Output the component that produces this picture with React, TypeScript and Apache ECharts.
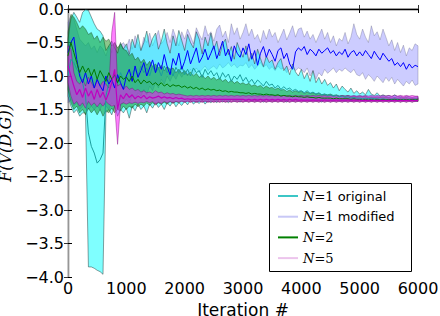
import React, { useEffect, useRef } from "react";
import * as echarts from "echarts";

// iteration grid (every 50 iterations)
const iters = [
  0, 50, 100, 150, 200, 250, 300, 350, 400, 450,
  500, 550, 600, 650, 700, 750, 800, 850, 900, 950,
  1000, 1050, 1100, 1150, 1200, 1250, 1300, 1350, 1400, 1450,
  1500, 1550, 1600, 1650, 1700, 1750, 1800, 1850, 1900, 1950,
  2000, 2050, 2100, 2150, 2200, 2250, 2300, 2350, 2400, 2450,
  2500, 2550, 2600, 2650, 2700, 2750, 2800, 2850, 2900, 2950,
  3000, 3050, 3100, 3150, 3200, 3250, 3300, 3350, 3400, 3450,
  3500, 3550, 3600, 3650, 3700, 3750, 3800, 3850, 3900, 3950,
  4000, 4050, 4100, 4150, 4200, 4250, 4300, 4350, 4400, 4450,
  4500, 4550, 4600, 4650, 4700, 4750, 4800, 4850, 4900, 4950,
  5000, 5050, 5100, 5150, 5200, 5250, 5300, 5350, 5400, 5450,
  5500, 5550, 5600, 5650, 5700, 5750, 5800, 5850, 5900, 5950,
  6000,
];

// N=1 original (cyan band, teal mean)
const origHi = [
  -0.45, -0.15, -0.05, -0.12, -0.2, -0.05, -0.01, -0.02, -0.12, -0.22,
  -0.3, -0.33, -0.4, -0.62, -0.55, -0.48, -0.58, -0.66, -0.5, -0.6,
  -0.52, -0.68, -0.45, -0.58, -0.38, -0.62, -0.5, -0.33, -0.57, -0.44,
  -0.36, -0.6, -0.48, -0.3, -0.52, -0.66, -0.4, -0.55, -0.32, -0.47,
  -0.62, -0.38, -0.5, -0.58, -0.34, -0.45, -0.67, -0.42, -0.55, -0.36,
  -0.6, -0.48, -0.7, -0.52, -0.45, -0.68, -0.56, -0.75, -0.5, -0.62,
  -0.72, -0.55, -0.78, -0.66, -0.82, -0.6, -0.74, -0.86, -0.7, -0.8,
  -0.76, -0.9, -0.8, -0.74, -0.92, -0.85, -0.98, -0.82, -0.94, -1.0,
  -0.9, -1.04, -0.95, -1.08, -0.92, -1.1, -1.02, -1.12, -1.05, -1.14,
  -1.1, -1.18, -1.12, -1.22, -1.15, -1.2, -1.24, -1.18, -1.26, -1.22,
  -1.27, -1.24, -1.28, -1.2, -1.27, -1.29, -1.25, -1.3, -1.28, -1.3,
  -1.29, -1.31, -1.28, -1.31, -1.3, -1.32, -1.3, -1.31, -1.32, -1.31,
  -1.31,
];
const origLo = [
  -1.3, -1.45, -1.55, -1.5, -1.6, -1.55, -1.55, -3.85, -3.85, -3.87,
  -3.9, -3.92, -3.96, -1.55, -1.5, -1.58, -1.45, -1.6, -1.5, -1.55,
  -1.48, -1.63, -1.45, -1.52, -1.42, -1.5, -1.45, -1.55, -1.42, -1.48,
  -1.4, -1.47, -1.42, -1.5, -1.4, -1.45, -1.38, -1.46, -1.4, -1.44,
  -1.38, -1.43, -1.36, -1.42, -1.38, -1.41, -1.36, -1.42, -1.37, -1.4,
  -1.36, -1.4, -1.35, -1.39, -1.36, -1.4, -1.35, -1.38, -1.36, -1.39,
  -1.35, -1.38, -1.35, -1.38, -1.36, -1.38, -1.35, -1.39, -1.35, -1.38,
  -1.36, -1.38, -1.35, -1.38, -1.36, -1.39, -1.35, -1.38, -1.36, -1.38,
  -1.35, -1.38, -1.36, -1.38, -1.35, -1.38, -1.36, -1.39, -1.35, -1.38,
  -1.36, -1.38, -1.35, -1.38, -1.36, -1.38, -1.35, -1.38, -1.36, -1.38,
  -1.35, -1.38, -1.36, -1.38, -1.35, -1.38, -1.36, -1.38, -1.35, -1.38,
  -1.36, -1.38, -1.35, -1.38, -1.36, -1.38, -1.35, -1.38, -1.36, -1.38,
  -1.37,
];
const origMean = [
  -1.0, -0.75, -0.8, -0.9, -0.95, -1.1, -1.3, -1.85, -2.05, -2.15,
  -2.3, -2.25, -2.15, -1.3, -1.1, -1.05, -1.0, -1.1, -0.95, -1.05,
  -1.0, -1.08, -0.95, -0.9, -1.0, -0.85, -0.95, -0.88, -1.0, -0.85,
  -0.95, -0.88, -1.0, -0.85, -0.95, -0.9, -1.0, -0.87, -0.95, -0.85,
  -0.98, -0.9, -1.0, -0.88, -0.95, -0.92, -1.02, -0.9, -0.98, -0.92,
  -1.0, -0.95, -1.05, -0.95, -1.02, -0.97, -1.08, -1.0, -1.05, -0.98,
  -1.08, -1.02, -1.1, -1.05, -1.12, -1.06, -1.1, -1.15, -1.08, -1.14,
  -1.12, -1.18, -1.14, -1.2, -1.16, -1.2, -1.18, -1.22, -1.2, -1.23,
  -1.22, -1.25, -1.22, -1.26, -1.24, -1.27, -1.25, -1.28, -1.27, -1.29,
  -1.28, -1.3, -1.29, -1.31, -1.3, -1.32, -1.31, -1.33, -1.32, -1.33,
  -1.33, -1.34, -1.33, -1.34, -1.33, -1.34, -1.34, -1.35, -1.34, -1.35,
  -1.35, -1.35, -1.34, -1.35, -1.35, -1.35, -1.35, -1.36, -1.35, -1.35,
  -1.35,
];

// N=1 modified (lavender band, blue mean)
const modHi = [
  -0.2, -0.1, -0.15, -0.3, -0.45, -0.5, -0.55, -0.5, -0.6, -0.55,
  -0.65, -0.55, -0.6, -0.7, -0.55, -0.65, -0.5, -0.6, -0.55, -0.5,
  -0.58, -0.45, -0.6, -0.4, -0.52, -0.62, -0.42, -0.5, -0.36, -0.55,
  -0.44, -0.32, -0.52, -0.46, -0.35, -0.5, -0.3, -0.42, -0.55, -0.34,
  -0.45, -0.3, -0.4, -0.52, -0.28, -0.38, -0.46, -0.25, -0.4, -0.34,
  -0.48, -0.3, -0.24, -0.42, -0.33, -0.5, -0.22, -0.38, -0.28, -0.45,
  -0.35, -0.22, -0.4, -0.3, -0.45, -0.38, -0.5, -0.32, -0.45, -0.3,
  -0.42, -0.35, -0.5, -0.4, -0.3, -0.46, -0.36, -0.25, -0.42, -0.3,
  -0.28, -0.42, -0.33, -0.45, -0.38, -0.5, -0.4, -0.3, -0.45, -0.35,
  -0.5, -0.4, -0.55, -0.44, -0.48, -0.35, -0.52, -0.42, -0.22, -0.38,
  -0.45, -0.3, -0.42, -0.5, -0.25, -0.4, -0.34, -0.46, -0.3, -0.42,
  -0.55, -0.46, -0.62, -0.5, -0.65, -0.54, -0.7, -0.58, -0.62, -0.52,
  -0.55,
];
const modLo = [
  -1.4, -1.35, -1.45, -1.4, -1.5, -1.45, -1.4, -1.5, -1.45, -1.5,
  -1.45, -1.5, -1.4, -1.45, -1.5, -1.4, -1.45, -1.38, -1.45, -1.4,
  -1.35, -1.4, -1.3, -1.35, -1.25, -1.3, -1.2, -1.28, -1.15, -1.22,
  -1.1, -1.18, -1.05, -1.12, -1.0, -1.08, -0.98, -1.05, -0.95, -1.02,
  -0.95, -1.0, -0.9, -0.98, -0.88, -0.95, -0.9, -0.85, -0.92, -0.88,
  -0.85, -0.9, -0.82, -0.88, -0.85, -0.8, -0.86, -0.82, -0.88, -0.84,
  -0.85, -0.8, -0.88, -0.83, -0.9, -0.85, -0.8, -0.87, -0.83, -0.9,
  -0.86, -0.92, -0.85, -0.9, -0.88, -0.95, -0.9, -0.86, -0.92, -0.88,
  -0.9, -0.95, -0.88, -1.0, -0.92, -1.05, -0.95, -1.0, -0.9, -0.96,
  -0.92, -0.88, -0.95, -0.9, -0.93, -0.88, -0.92, -0.95, -0.9, -0.98,
  -1.0, -0.95, -1.05, -0.98, -1.02, -1.08, -1.0, -1.05, -1.1, -1.02,
  -1.08, -1.02, -1.12, -1.05, -1.1, -1.15, -1.08, -1.12, -1.06, -1.14,
  -1.12,
];
const modMean = [
  -0.65, -0.5, -0.42, -0.75, -1.0, -1.1, -0.95, -1.12, -1.0, -1.18,
  -1.05, -1.15, -1.22, -1.0, -1.12, -1.05, -1.18, -0.98, -1.1, -1.2,
  -1.0, -0.9, -1.08, -0.85, -1.02, -0.92, -0.8, -1.0, -0.88, -0.76,
  -0.95, -0.8, -0.9, -0.68, -0.86, -0.98, -0.74, -0.84, -0.66, -0.9,
  -0.78, -0.62, -0.82, -0.7, -0.58, -0.8, -0.72, -0.6, -0.76, -0.66,
  -0.55, -0.74, -0.62, -0.48, -0.7, -0.6, -0.78, -0.55, -0.66, -0.72,
  -0.58, -0.68, -0.52, -0.75, -0.62, -0.84, -0.66, -0.56, -0.72, -0.6,
  -0.68, -0.78, -0.62, -0.58, -0.74, -0.66, -0.82, -0.9, -0.64, -0.58,
  -0.62, -0.56, -0.68, -0.6, -0.64, -0.7, -0.6, -0.66, -0.62, -0.58,
  -0.66, -0.62, -0.7, -0.64, -0.68, -0.6, -0.72, -0.65, -0.62, -0.7,
  -0.64, -0.7, -0.62, -0.68, -0.74, -0.63, -0.7, -0.76, -0.66, -0.72,
  -0.78, -0.74, -0.84, -0.8, -0.86, -0.8, -0.9, -0.82, -0.88, -0.84,
  -0.86,
];

// N=2 (green band, green mean)
const n2Hi = [
  -0.35, -0.08, -0.12, -0.2, -0.3, -0.25, -0.3, -0.38, -0.35, -0.45,
  -0.4, -0.5, -0.42, -0.48, -0.45, -0.55, -0.5, -0.58, -0.52, -0.6,
  -0.62, -0.7, -0.66, -0.76, -0.72, -0.8, -0.75, -0.84, -0.78, -0.86,
  -0.82, -0.88, -0.84, -0.92, -0.86, -0.9, -0.88, -0.95, -0.9, -0.96,
  -0.92, -0.98, -0.94, -1.0, -0.96, -1.02, -0.98, -1.04, -1.0, -1.05,
  -1.02, -1.06, -1.03, -1.08, -1.05, -1.1, -1.06, -1.11, -1.08, -1.12,
  -1.1, -1.13, -1.11, -1.15, -1.13, -1.16, -1.14, -1.18, -1.15, -1.18,
  -1.17, -1.2, -1.18, -1.21, -1.2, -1.23, -1.21, -1.24, -1.22, -1.24,
  -1.23, -1.26, -1.24, -1.26, -1.25, -1.27, -1.26, -1.28, -1.27, -1.28,
  -1.27, -1.29, -1.28, -1.3, -1.29, -1.3, -1.29, -1.31, -1.3, -1.31,
  -1.3, -1.31, -1.3, -1.32, -1.31, -1.32, -1.31, -1.32, -1.31, -1.32,
  -1.32, -1.33, -1.32, -1.33, -1.32, -1.33, -1.32, -1.33, -1.33, -1.33,
  -1.33,
];
const n2Lo = [
  -1.2, -1.4, -1.5, -1.45, -1.55, -1.5, -1.58, -1.48, -1.55, -1.5,
  -1.58, -1.5, -1.6, -1.52, -1.55, -1.48, -1.55, -1.5, -1.52, -1.45,
  -1.5, -1.45, -1.48, -1.42, -1.46, -1.42, -1.45, -1.4, -1.44, -1.4,
  -1.43, -1.4, -1.42, -1.39, -1.42, -1.38, -1.41, -1.38, -1.4, -1.37,
  -1.39, -1.37, -1.39, -1.37, -1.39, -1.37, -1.39, -1.37, -1.39, -1.37,
  -1.39, -1.37, -1.39, -1.37, -1.39, -1.37, -1.39, -1.37, -1.39, -1.37,
  -1.39, -1.37, -1.39, -1.37, -1.39, -1.37, -1.39, -1.37, -1.39, -1.37,
  -1.39, -1.37, -1.39, -1.37, -1.39, -1.37, -1.39, -1.37, -1.39, -1.37,
  -1.39, -1.37, -1.39, -1.37, -1.39, -1.37, -1.39, -1.37, -1.39, -1.37,
  -1.39, -1.37, -1.39, -1.37, -1.39, -1.37, -1.39, -1.37, -1.39, -1.37,
  -1.39, -1.37, -1.39, -1.37, -1.39, -1.37, -1.39, -1.37, -1.39, -1.37,
  -1.39, -1.37, -1.39, -1.37, -1.39, -1.37, -1.39, -1.37, -1.39, -1.37,
  -1.38,
];
const n2Mean = [
  -0.7, -0.5, -0.65, -0.8, -0.95, -0.85, -0.95, -0.88, -1.0, -0.9,
  -1.05, -0.92, -1.0, -1.08, -0.95, -1.05, -0.98, -1.1, -1.0, -1.05,
  -1.02, -1.08, -1.0, -1.1, -1.05, -1.12, -1.06, -1.1, -1.08, -1.13,
  -1.1, -1.14, -1.1, -1.15, -1.12, -1.16, -1.13, -1.15, -1.14, -1.17,
  -1.15, -1.18, -1.16, -1.19, -1.17, -1.2, -1.18, -1.21, -1.19, -1.21,
  -1.2, -1.22, -1.21, -1.23, -1.22, -1.24, -1.23, -1.24, -1.24, -1.25,
  -1.25, -1.26, -1.25, -1.27, -1.26, -1.27, -1.27, -1.28, -1.27, -1.28,
  -1.28, -1.29, -1.28, -1.3, -1.29, -1.3, -1.3, -1.31, -1.3, -1.31,
  -1.31, -1.32, -1.31, -1.32, -1.32, -1.33, -1.32, -1.33, -1.33, -1.33,
  -1.33, -1.34, -1.33, -1.34, -1.34, -1.34, -1.34, -1.35, -1.34, -1.35,
  -1.35, -1.36, -1.35, -1.36, -1.35, -1.36, -1.35, -1.36, -1.35, -1.36,
  -1.35, -1.36, -1.35, -1.36, -1.35, -1.36, -1.35, -1.36, -1.35, -1.36,
  -1.35,
];

// N=5 (pink band, magenta mean)
const n5Hi = [
  -0.55, -0.6, -0.95, -1.08, -1.12, -1.05, -1.15, -1.02, -1.1, -1.18,
  -1.05, -1.15, -1.08, -1.12, -1.18, -0.35, -0.05, -1.15, -1.12, -1.2,
  -1.15, -1.2, -1.18, -1.22, -1.2, -1.24, -1.22, -1.25, -1.24, -1.26,
  -1.22, -1.25, -1.24, -1.27, -1.25, -1.27, -1.26, -1.28, -1.27, -1.28,
  -1.29, -1.3, -1.29, -1.3, -1.29, -1.3, -1.29, -1.3, -1.29, -1.3,
  -1.29, -1.3, -1.29, -1.3, -1.29, -1.3, -1.29, -1.3, -1.29, -1.3,
  -1.29, -1.3, -1.29, -1.3, -1.29, -1.3, -1.29, -1.3, -1.29, -1.3,
  -1.29, -1.3, -1.29, -1.3, -1.29, -1.3, -1.29, -1.3, -1.29, -1.3,
  -1.29, -1.3, -1.29, -1.3, -1.29, -1.3, -1.29, -1.3, -1.29, -1.3,
  -1.29, -1.3, -1.29, -1.3, -1.29, -1.3, -1.29, -1.3, -1.29, -1.3,
  -1.29, -1.3, -1.29, -1.3, -1.29, -1.3, -1.29, -1.3, -1.29, -1.3,
  -1.29, -1.3, -1.29, -1.3, -1.29, -1.3, -1.29, -1.3, -1.29, -1.3,
  -1.3,
];
const n5Lo = [
  -1.1, -1.3, -1.42, -1.38, -1.45, -1.4, -1.48, -1.38, -1.44, -1.4,
  -1.46, -1.4, -1.45, -1.38, -1.42, -1.45, -1.44, -2.02, -1.42, -1.4,
  -1.42, -1.4, -1.41, -1.39, -1.41, -1.39, -1.4, -1.38, -1.4, -1.38,
  -1.42, -1.39, -1.41, -1.38, -1.4, -1.38, -1.4, -1.38, -1.39, -1.38,
  -1.39, -1.38, -1.39, -1.38, -1.39, -1.38, -1.39, -1.38, -1.39, -1.38,
  -1.39, -1.38, -1.39, -1.38, -1.39, -1.38, -1.39, -1.38, -1.39, -1.38,
  -1.39, -1.38, -1.39, -1.38, -1.39, -1.38, -1.39, -1.38, -1.39, -1.38,
  -1.39, -1.38, -1.39, -1.38, -1.39, -1.38, -1.39, -1.38, -1.39, -1.38,
  -1.39, -1.38, -1.39, -1.38, -1.39, -1.38, -1.39, -1.38, -1.39, -1.38,
  -1.39, -1.38, -1.39, -1.38, -1.39, -1.38, -1.39, -1.38, -1.39, -1.38,
  -1.39, -1.38, -1.39, -1.38, -1.39, -1.38, -1.39, -1.38, -1.39, -1.38,
  -1.39, -1.38, -1.39, -1.38, -1.39, -1.38, -1.39, -1.38, -1.39, -1.38,
  -1.38,
];
const n5Mean = [
  -0.85, -1.0, -1.15, -1.28, -1.2, -1.32, -1.18, -1.3, -1.22, -1.35,
  -1.2, -1.32, -1.24, -1.36, -1.25, -1.1, -0.9, -1.5, -1.28, -1.34,
  -1.26, -1.32, -1.28, -1.34, -1.3, -1.33, -1.29, -1.34, -1.31, -1.33,
  -1.32, -1.3, -1.33, -1.31, -1.33, -1.32, -1.34, -1.32, -1.34, -1.33,
  -1.35, -1.34, -1.35, -1.34, -1.35, -1.34, -1.35, -1.34, -1.35, -1.34,
  -1.35, -1.35, -1.35, -1.35, -1.35, -1.35, -1.35, -1.35, -1.35, -1.35,
  -1.35, -1.36, -1.35, -1.36, -1.35, -1.36, -1.35, -1.36, -1.35, -1.36,
  -1.35, -1.36, -1.35, -1.36, -1.35, -1.36, -1.35, -1.36, -1.35, -1.36,
  -1.36, -1.36, -1.36, -1.36, -1.36, -1.36, -1.36, -1.36, -1.36, -1.36,
  -1.36, -1.36, -1.36, -1.36, -1.36, -1.36, -1.36, -1.36, -1.36, -1.36,
  -1.36, -1.37, -1.36, -1.37, -1.36, -1.37, -1.36, -1.37, -1.36, -1.37,
  -1.36, -1.37, -1.36, -1.37, -1.36, -1.37, -1.36, -1.37, -1.36, -1.37,
  -1.36,
];

const xTicks = [0, 1000, 2000, 3000, 4000, 5000, 6000];
const legendNames = ["N=1 original", "N=1 modified", "N=2", "N=5"];
const legendColors = ["#3cc6c6", "#c8c8f6", "#008000", "#ecc4ec"];

function band(name: string, lo: number[], hi: number[], fill: string, stroke: string) {
  return {
    type: "custom",
    name,
    silent: true,
    coordinateSystem: "cartesian2d",
    data: [[0, 0]],
    renderItem: (_params: any, api: any) => {
      const pts: number[][] = [];
      for (let i = 0; i < iters.length; i++) pts.push(api.coord([iters[i], hi[i]]));
      for (let i = iters.length - 1; i >= 0; i--) pts.push(api.coord([iters[i], lo[i]]));
      return {
        type: "polygon",
        shape: { points: pts },
        style: { fill, stroke, lineWidth: 0.7 },
      };
    },
  };
}

function meanLine(name: string, vals: number[], color: string, width = 1) {
  return {
    type: "line",
    name,
    data: iters.map((x, i) => [x, vals[i]]),
    showSymbol: false,
    symbol: "none",
    lineStyle: { color, width },
    itemStyle: { color },
  };
}

const fmtY = (v: number) => {
  const s = Math.abs(v).toFixed(1);
  return v < 0 ? "\u2212" + s : s;
};

export default function App() {
  const ref = useRef<HTMLDivElement>(null);
  useEffect(() => {
    const chart = echarts.init(ref.current!, null, { renderer: "svg" });
    const axisCommonX = {
      type: "value",
      min: 0,
      max: 6000,
      interval: 1000,
      splitLine: { show: false },
    };
    const axisCommonY = {
      type: "value",
      min: -4,
      max: 0,
      interval: 0.5,
      splitLine: { show: false },
    };
    chart.setOption({
      animation: false,
      backgroundColor: "#ffffff",
      grid: {
        left: 68,
        top: 9,
        width: 350,
        height: 268,
        containLabel: false,
        outerBoundsMode: "none",
      },
      xAxis: [
        {
          ...axisCommonX,
          position: "bottom",
          axisLine: { show: true, lineStyle: { color: "#c8c8c8", width: 1.5 } },
          axisTick: { show: true, inside: true, length: 4, lineStyle: { color: "#333" } },
          axisLabel: {
            color: "#000",
            fontSize: 16,
            fontFamily: "DejaVu Sans",
            margin: 3,
            formatter: (v: number) => (xTicks.includes(v) ? String(v) : ""),
          },
          name: "Iteration #",
          nameLocation: "middle",
          nameGap: 17,
          nameTextStyle: { color: "#000", fontSize: 17, lineHeight: 18, fontFamily: "DejaVu Sans" },
        },
        {
          ...axisCommonX,
          position: "top",
          axisLine: { show: true, lineStyle: { color: "#000", width: 1.3 } },
          axisTick: { show: true, inside: true, length: 4, lineStyle: { color: "#000" } },
          axisLabel: { show: false },
        },
      ],
      yAxis: [
        {
          ...axisCommonY,
          position: "left",
          axisLine: { show: true, lineStyle: { color: "#000", width: 1.3 } },
          axisTick: { show: true, inside: true, length: 4, lineStyle: { color: "#000" } },
          axisLabel: {
            color: "#000",
            fontSize: 16,
            fontFamily: "DejaVu Sans",
            margin: 4,
            formatter: fmtY,
          },
          name: "F(V(D,G))",
          nameLocation: "middle",
          nameGap: 44,
          nameRotate: 90,
          nameTextStyle: {
            color: "#000",
            fontSize: 16,
            lineHeight: 17,
            fontFamily: "DejaVu Serif",
            fontStyle: "italic",
          },
        },
        {
          ...axisCommonY,
          position: "right",
          axisLine: { show: true, lineStyle: { color: "#c8c8c8", width: 1.5 } },
          axisTick: { show: true, inside: true, length: 4, lineStyle: { color: "#333" } },
          axisLabel: { show: false },
        },
      ],
      legend: {
        show: true,
        orient: "vertical",
        left: 278,
        top: 189,
        padding: 0,
        itemWidth: 20,
        itemHeight: 2,
        itemGap: 6.7,
        itemTextGap: 15,
        icon: "rect",
        selectedMode: false,
        data: legendNames.map((n, i) => ({
          name: n,
          icon: "rect",
          itemStyle: { color: legendColors[i] },
        })),
        formatter: (name: string) => {
          const m = name.match(/^N(=\d)(.*)$/);
          if (!m) return name;
          return `{i|N}{m|${m[1]}}{t|${m[2]}}`;
        },
        textStyle: {
          color: "#000",
          fontSize: 13,
          lineHeight: 14,
          rich: {
            i: { fontFamily: "DejaVu Serif", fontStyle: "italic", fontSize: 13, lineHeight: 14, color: "#000" },
            m: { fontFamily: "DejaVu Serif", fontSize: 13, lineHeight: 14, color: "#000" },
            t: { fontFamily: "DejaVu Sans", fontSize: 13, lineHeight: 14, color: "#000" },
          },
        },
      },
      graphic: [
        {
          type: "rect",
          z: 3,
          shape: { x: 269.5, y: 183.5, width: 142, height: 88 },
          style: { fill: "#ffffff", stroke: "#000", lineWidth: 1 },
        },
      ],
      series: [
        band("band-mod", modLo, modHi, "rgba(0,0,255,0.2)", "rgba(90,90,120,0.45)"),
        band("band-orig", origLo, origHi, "rgba(0,255,255,0.5)", "rgba(40,60,60,0.7)"),
        band("band-n2", n2Lo, n2Hi, "rgba(0,128,0,0.45)", "rgba(20,60,20,0.6)"),
        band("band-n5", n5Lo, n5Hi, "rgba(255,0,255,0.5)", "rgba(120,0,120,0.6)"),
        meanLine("N=1 original", origMean, "#1a9e9e"),
        meanLine("N=1 modified", modMean, "#0000ff"),
        meanLine("N=2", n2Mean, "#007a00"),
        meanLine("N=5", n5Mean, "#c000c0", 1.2),
      ],
    });
    return () => chart.dispose();
  }, []);
  return (
    <div
      ref={ref}
      style={{ position: "fixed", left: 0, top: 0, width: 440, height: 316, background: "#fff" }}
    />
  );
}
